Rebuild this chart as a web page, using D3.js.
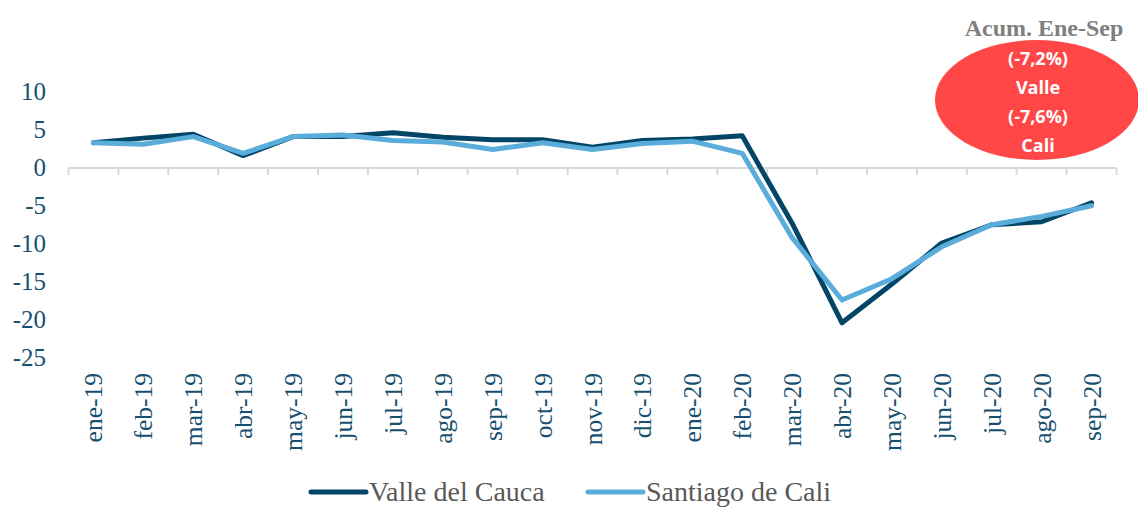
<!DOCTYPE html>
<html>
<head>
<meta charset="utf-8">
<script src="https://cdn.jsdelivr.net/npm/d3@7"></script>
<style>
  body { margin: 0; background: #fff; }
  svg { display: block; }
  .serif { font-family: "Liberation Serif", "Times New Roman", "DejaVu Serif", serif; }
</style>
</head>
<body>
<div id="chart"></div>
<script>
const months = ["ene-19","feb-19","mar-19","abr-19","may-19","jun-19","jul-19","ago-19","sep-19","oct-19","nov-19","dic-19",
                "ene-20","feb-20","mar-20","abr-20","may-20","jun-20","jul-20","ago-20","sep-20"];
const valle = [3.2, 3.8, 4.3, 1.5, 4.0, 4.0, 4.5, 3.9, 3.6, 3.6, 2.6, 3.5, 3.7, 4.1, -7.4, -20.5, -15.4, -10.0, -7.6, -7.2, -4.7];
const cali  = [3.2, 3.0, 4.0, 1.8, 4.0, 4.2, 3.5, 3.3, 2.3, 3.2, 2.3, 3.1, 3.4, 1.8, -9.3, -17.5, -14.7, -10.5, -7.6, -6.5, -5.1];
const yTicks = [10, 5, 0, -5, -10, -15, -20, -25];
const seriesNames = ["Valle del Cauca", "Santiago de Cali"];
const colors = ["#034566", "#5aaddb"];
const note = ["(-7,2%)", "Valle", "(-7,6%)", "Cali"];

const W = 1138, H = 508;
const svg = d3.select("#chart").append("svg").attr("width", W).attr("height", H);

const x = d3.scaleBand().domain(months).range([68.5, 1116.5]);
const y = d3.scaleLinear().domain([-25, 10]).range([357, 91]);

// x axis line + ticks at band edges
const axisY = y(0) + 1;
svg.append("line")
  .attr("x1", x.range()[0]).attr("x2", x.range()[1])
  .attr("y1", axisY).attr("y2", axisY)
  .attr("stroke", "#d9d9d9").attr("stroke-width", 2);
const edges = months.map(m => x(m)).concat([x.range()[1]]);
svg.selectAll(".tk").data(edges).enter().append("line")
  .attr("x1", d => d).attr("x2", d => d)
  .attr("y1", axisY).attr("y2", axisY + 7)
  .attr("stroke", "#d9d9d9").attr("stroke-width", 2);

// x labels rotated
svg.selectAll(".xl").data(months).enter().append("text")
  .attr("class", "serif")
  .attr("transform", d => "translate(" + (x(d) + x.bandwidth() / 2 + 9) + ",373) rotate(-90)")
  .attr("text-anchor", "end")
  .style("font-size", "25.5px")
  .attr("fill", "#17506f")
  .text(d => d);

// y labels
svg.selectAll(".yl").data(yTicks).enter().append("text")
  .attr("class", "serif")
  .attr("x", 46).attr("y", d => y(d))
  .attr("dy", "0.35em")
  .attr("text-anchor", "end")
  .style("font-size", "25px")
  .attr("fill", "#17506f")
  .text(d => d);

const line = d3.line()
  .x((d, i) => x(months[i]) + x.bandwidth() / 2)
  .y(d => y(d));

[valle, cali].forEach((s, i) => {
  svg.append("path")
    .datum(s)
    .attr("d", line)
    .attr("fill", "none")
    .attr("stroke", colors[i])
    .attr("stroke-width", 5)
    .attr("stroke-linejoin", "round")
    .attr("stroke-linecap", "round");
});

// annotation
svg.append("text")
  .attr("class", "serif")
  .attr("x", 1044).attr("y", 36)
  .attr("text-anchor", "middle")
  .attr("font-weight", "bold")
  .style("font-size", "24px")
  .attr("fill", "#808080")
  .text("Acum. Ene-Sep");
svg.append("ellipse")
  .attr("cx", 1037).attr("cy", 100).attr("rx", 102).attr("ry", 60)
  .attr("fill", "#ff4747");
svg.selectAll(".nt").data(note).enter().append("text")
  .attr("x", 1038).attr("y", (d, i) => 65 + i * 29)
  .attr("text-anchor", "middle")
  .attr("font-family", "Open Sans, Noto Sans, sans-serif")
  .attr("font-weight", "bold")
  .style("font-size", "18px")
  .attr("fill", "#fff")
  .text(d => d);

// legend
const legX = [311, 588];
seriesNames.forEach((n, i) => {
  svg.append("line")
    .attr("x1", legX[i]).attr("x2", legX[i] + 55)
    .attr("y1", 492).attr("y2", 492)
    .attr("stroke", colors[i]).attr("stroke-width", 5)
    .attr("stroke-linecap", "round");
  svg.append("text")
    .attr("class", "serif")
    .attr("x", legX[i] + 58).attr("y", 501)
    .style("font-size", "28px")
    .attr("fill", "#595959")
    .text(n);
});
</script>
</body>
</html>
